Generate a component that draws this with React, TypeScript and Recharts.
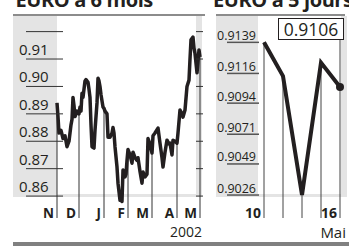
import { LineChart, Line, XAxis, YAxis, ReferenceLine } from "recharts";

// EURO à 6 mois (trading-day index, value)
const SIX_T = [
  0, 1, 2, 4, 6, 8, 10, 12, 14, 15, 16, 17, 18, 20, 22, 23, 24, 25, 26, 28, 29, 31, 32, 33, 34, 35, 37, 38,
  40, 41, 42, 43, 44, 46, 47, 48, 50, 51, 53, 55, 56, 57, 58, 60, 61, 63, 64, 65, 66, 68, 69, 70, 71, 73,
  75, 76, 78, 80, 81, 83, 85, 86, 88, 90, 91, 93, 95, 96, 98, 101, 103, 105, 106, 108, 110, 112, 113, 115,
  116, 118, 120, 121, 123, 125, 126, 128, 130, 132, 133, 134, 136, 137, 138, 140, 142, 143,
];
const SIX_EUR = [
  0.894, 0.889, 0.883, 0.884, 0.881, 0.882, 0.878, 0.88, 0.886, 0.888, 0.896, 0.893, 0.889, 0.891, 0.89,
  0.8925, 0.891, 0.8975, 0.896, 0.902, 0.9025, 0.9015, 0.899, 0.896, 0.886, 0.878, 0.8775, 0.884, 0.894,
  0.903, 0.902, 0.9, 0.897, 0.8925, 0.892, 0.891, 0.89, 0.8815, 0.8815, 0.883, 0.885, 0.883, 0.878, 0.8706,
  0.8647, 0.8585, 0.861, 0.858, 0.8695, 0.867, 0.868, 0.873, 0.877, 0.875, 0.872, 0.876, 0.874, 0.873,
  0.874, 0.869, 0.8647, 0.8688, 0.867, 0.868, 0.881, 0.879, 0.8757, 0.882, 0.883, 0.8848, 0.8793, 0.874,
  0.8706, 0.876, 0.8804, 0.879, 0.8793, 0.875, 0.8804, 0.88, 0.8793, 0.883, 0.8914, 0.89, 0.8888, 0.8914,
  0.9, 0.9023, 0.91, 0.917, 0.918, 0.914, 0.912, 0.905, 0.9133, 0.9107,
];
const MONTH_T = [0, 22, 47, 71, 95, 120, 143];
const MONTH_LABELS = ["N", "D", "J", "F", "M", "A", "M"];
const SIX_TICKS = [0.86, 0.87, 0.88, 0.89, 0.9, 0.91, 0.92];
const SIX_DOMAIN: [number, number] = [0.852, 0.9257];

// EURO à 5 jours
const FIVE_DAYS = ["10", "13", "14", "15", "16"];
const FIVE_EUR = [0.9139, 0.9114, 0.9026, 0.9124, 0.9106];
const FIVE_TICKS = [0.9026, 0.9049, 0.9071, 0.9094, 0.9116, 0.9139];
const FIVE_DOMAIN: [number, number] = [0.9009, 0.91585];
const BOX_LINK = 0.9141;

const INK = "#231f20";
const GRAY = "#e4e4e4";
const RULE = "#8c8c8c";
const FONT = "'Open Sans', sans-serif";

const sixData = SIX_T.map((t, i) => ({ t, v: SIX_EUR[i] }));
const fiveData = FIVE_EUR.map((v, i) => ({ t: i, v }));

function SixYTick({ x, y, payload }: any) {
  const v = payload.value as number;
  return (
    <g>
      <line x1={x - 31} x2={x + 6} y1={y} y2={y} stroke="#333" strokeWidth={1} />
      <line x1={x + 139} x2={x + 146} y1={y} y2={y} stroke="#333" strokeWidth={1} />
      {v < 0.915 && (
        <text x={x - 38} y={y - 4} fontSize={15} fill={INK} fontFamily={FONT}>
          {v.toFixed(2)}
        </text>
      )}
    </g>
  );
}

function SixXTick({ x, y, payload }: any) {
  const i = MONTH_T.indexOf(payload.value);
  return (
    <text x={x - 3} y={y} textAnchor="end" fontSize={13.5} fontWeight={700} fill={INK} fontFamily={FONT}>
      {MONTH_LABELS[i]}
    </text>
  );
}

function FiveYTick({ x, y, payload }: any) {
  const v = payload.value as number;
  return (
    <g>
      <line x1={x - 37} x2={x - 5} y1={y} y2={y} stroke="#555" strokeWidth={1.5} />
      <text x={x - 47} y={y - 2.5} fontSize={12.5} fill={INK} fontFamily={FONT}>
        {v.toFixed(4)}
      </text>
    </g>
  );
}

function FiveXTick({ x, y, payload }: any) {
  return (
    <text x={x - 3} y={y} textAnchor="end" fontSize={14} fontWeight={700} fill={INK} fontFamily={FONT}>
      {FIVE_DAYS[payload.value]}
    </text>
  );
}

const abs = (left: number, top: number, width: number, height: number, extra: any = {}) => ({
  position: "absolute" as const,
  left,
  top,
  width,
  height,
  ...extra,
});

const titleStyle = { fontSize: 20, lineHeight: "20px", fontWeight: 700, whiteSpace: "nowrap", letterSpacing: -0.4 };

export default function App() {
  const last = FIVE_EUR.length - 1;
  return (
    <div style={{ position: "fixed", left: 0, top: 0, width: 349, height: 246, background: "#fff", overflow: "hidden", fontFamily: FONT, color: INK }}>
      {/* titles */}
      <div style={abs(15.5, -10, 190, 20, titleStyle)}>EURO à 6 mois</div>
      <div style={abs(213, -10, 136, 20, titleStyle)}>EURO à 5 jours</div>
      <div style={abs(13, 13.5, 192, 2, { background: RULE })} />
      <div style={abs(216, 13.5, 129, 2, { background: RULE })} />

      {/* panel backgrounds */}
      <div style={abs(13, 16, 189, 181, { background: GRAY })} />
      <div style={abs(57, 16, 139, 178, { background: "#fff" })} />
      <div style={abs(216, 16, 131, 181, { background: GRAY })} />
      <div style={abs(258, 16, 83, 178, { background: "#fff" })} />

      {/* bottom texts and rule */}
      <div style={abs(150, 224, 52, 16, { fontSize: 14, lineHeight: "16px", textAlign: "right" })}>2002</div>
      <div style={abs(296, 224, 50, 16, { fontSize: 15, lineHeight: "16px", textAlign: "right" })}>Mai</div>
      <div style={abs(13, 242, 336, 4, { background: "#808080" })} />

      <div style={abs(0, 0, 210, 246)}>
        <LineChart width={210} height={246} data={sixData} margin={{ top: 16, right: 10, bottom: 0, left: 0 }}>
          <XAxis
            dataKey="t"
            type="number"
            domain={[0, 143]}
            ticks={MONTH_T}
            interval={0}
            height={28}
            axisLine={false}
            tickLine={false}
            tickSize={0}
            tickMargin={0}
            tick={<SixXTick />}
          />
          <YAxis
            type="number"
            domain={SIX_DOMAIN}
            ticks={SIX_TICKS}
            interval={0}
            width={57}
            axisLine={false}
            tickLine={false}
            tickSize={0}
            tickMargin={0}
            allowDataOverflow
            tick={<SixYTick />}
          />
          {MONTH_T.map((t) => (
            <ReferenceLine
              key={t}
              segment={[
                { x: t, y: SIX_DOMAIN[0] },
                { x: t, y: SIX_EUR[SIX_T.indexOf(t)] },
              ]}
              stroke="#333"
              strokeWidth={1}
            />
          ))}
          <Line
            dataKey="v"
            type="linear"
            stroke={INK}
            strokeWidth={3.5}
            strokeLinejoin="round"
            dot={false}
            activeDot={false}
            isAnimationActive={false}
          />
        </LineChart>
      </div>

      <div style={abs(210, 0, 139, 246)}>
        <LineChart width={139} height={246} data={fiveData} margin={{ top: 16, right: 9, bottom: 0, left: 0 }}>
          <XAxis
            dataKey="t"
            type="number"
            domain={[0, last]}
            ticks={[0, last]}
            interval={0}
            height={28}
            axisLine={false}
            tickLine={false}
            tickSize={0}
            tickMargin={0}
            tick={<FiveXTick />}
          />
          <YAxis
            type="number"
            domain={FIVE_DOMAIN}
            ticks={FIVE_TICKS}
            interval={0}
            width={54}
            axisLine={false}
            tickLine={false}
            tickSize={0}
            tickMargin={0}
            allowDataOverflow
            tick={<FiveYTick />}
          />
          {FIVE_EUR.map((v, i) => (
            <ReferenceLine
              key={i}
              segment={[
                { x: i, y: FIVE_DOMAIN[0] },
                { x: i, y: i === last ? BOX_LINK : v },
              ]}
              stroke="#444"
              strokeWidth={1}
            />
          ))}
          <Line
            dataKey="v"
            type="linear"
            stroke={INK}
            strokeWidth={4}
            dot={(p: any) =>
              p.index === last ? (
                <circle key={`d${p.index}`} cx={p.cx} cy={p.cy} r={4} fill={INK} />
              ) : (
                <g key={`d${p.index}`} />
              )
            }
            activeDot={false}
            isAnimationActive={false}
          />
        </LineChart>
      </div>

      {/* latest value box */}
      <div
        style={abs(278, 18, 64, 20, {
          border: `1px solid ${INK}`,
          background: "#fff",
          fontSize: 17.5,
          lineHeight: "20px",
          textAlign: "center",
        })}
      >
        {FIVE_EUR[last].toFixed(4)}
      </div>
    </div>
  );
}
